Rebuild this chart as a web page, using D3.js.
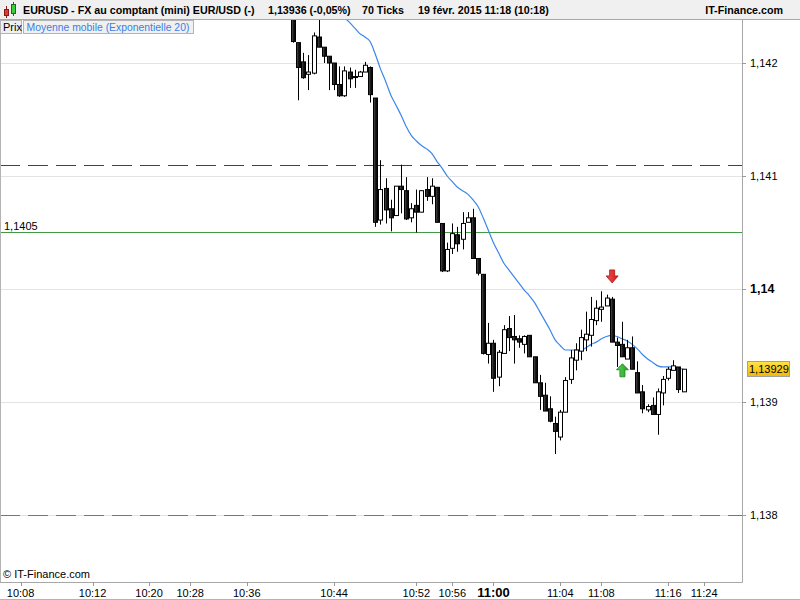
<!DOCTYPE html>
<html>
<head>
<meta charset="utf-8">
<script src="https://cdn.jsdelivr.net/npm/d3@7"></script>
<style>
  html, body { margin: 0; padding: 0; background: #fff; }
  svg { display: block; font-family: "Liberation Sans", Arial, sans-serif; }
</style>
</head>
<body>
<svg id="chart" width="800" height="600"></svg>
<script>
// ---------------- data ----------------
const opens = [1.14245,1.14218,1.14201,1.14190,1.14191,1.14223,1.14214,1.14206,1.14200,1.14181,
  1.14171,1.14192,1.14188,1.14188,1.14192,1.14196,1.14169,1.14061,1.14089,1.14071,
  1.14065,1.14091,1.14087,1.14063,1.14074,1.14068,1.14088,1.14082,1.14090,1.14058,
  1.14016,1.14036,1.14048,1.14044,1.14059,1.14063,1.14027,1.14013,1.13942,1.13952,
  1.13922,1.13943,1.13965,1.13958,1.13956,1.13951,1.13959,1.13940,1.13917,1.13906,
  1.13894,1.13881,1.13869,1.13891,1.13920,1.13937,1.13945,1.13955,1.13959,1.13972,
  1.13982,1.13985,1.13991,1.13953,1.13951,1.13938,1.13948,1.13926,1.13909,1.13893,
  1.13897,1.13889,1.13908,1.13921,1.13928,1.13931,1.13909];
const highs = [1.14251,1.14218,1.14209,1.14207,1.14227,1.14240,1.14214,1.14206,1.14200,1.14197,
  1.14197,1.14196,1.14194,1.14193,1.14201,1.14197,1.14169,1.14114,1.14098,1.14079,
  1.14091,1.14110,1.14099,1.14076,1.14088,1.14087,1.14099,1.14098,1.14090,1.14058,
  1.14041,1.14058,1.14055,1.14068,1.14068,1.14071,1.14027,1.14013,1.13970,1.13955,
  1.13946,1.13968,1.13976,1.13977,1.13959,1.13959,1.13959,1.13940,1.13924,1.13917,
  1.13905,1.13887,1.13893,1.13922,1.13946,1.13952,1.13964,1.13980,1.13993,1.13990,
  1.13998,1.13995,1.13993,1.13957,1.13971,1.13955,1.13958,1.13936,1.13915,1.13898,
  1.13904,1.13912,1.13923,1.13931,1.13937,1.13931,1.13929];
const lows = [1.14218,1.14167,1.14186,1.14176,1.14190,1.14214,1.14200,1.14176,1.14176,1.14170,
  1.14170,1.14178,1.14178,1.14188,1.14192,1.14165,1.14055,1.14057,1.14058,1.14051,
  1.14065,1.14067,1.14061,1.14059,1.14050,1.14068,1.14078,1.14075,1.14059,1.14015,
  1.14015,1.14031,1.14033,1.14035,1.14059,1.14027,1.14012,1.13942,1.13934,1.13909,
  1.13914,1.13943,1.13945,1.13934,1.13948,1.13943,1.13940,1.13917,1.13893,1.13892,
  1.13882,1.13854,1.13866,1.13891,1.13916,1.13928,1.13937,1.13945,1.13949,1.13968,
  1.13971,1.13985,1.13953,1.13931,1.13940,1.13938,1.13929,1.13908,1.13890,1.13891,
  1.13889,1.13871,1.13897,1.13919,1.13928,1.13908,1.13909];
const closes = [1.14219,1.14196,1.14187,1.14192,1.14224,1.14214,1.14206,1.14200,1.14181,1.14171,
  1.14193,1.14186,1.14188,1.14192,1.14198,1.14172,1.14059,1.14088,1.14070,1.14063,
  1.14091,1.14088,1.14062,1.14071,1.14068,1.14087,1.14082,1.14091,1.14059,1.14016,
  1.14035,1.14049,1.14040,1.14058,1.14063,1.14027,1.14014,1.13943,1.13952,1.13921,
  1.13944,1.13964,1.13957,1.13955,1.13953,1.13958,1.13940,1.13917,1.13905,1.13892,
  1.13883,1.13874,1.13891,1.13919,1.13939,1.13946,1.13957,1.13960,1.13973,1.13983,
  1.13984,1.13992,1.13953,1.13950,1.13940,1.13948,1.13929,1.13908,1.13894,1.13896,
  1.13889,1.13909,1.13920,1.13929,1.13932,1.13911,1.13929];
// EMA(20), starting at bar 10
const emaStart = 10;
const emaValues = [1.14245,1.14240,1.14236,1.14231,1.14226,1.14223,1.14219,1.14208,1.14195,1.14184,
  1.14172,1.14163,1.14154,1.14144,1.14136,1.14131,1.14127,1.14124,1.14120,1.14113,
  1.14107,1.14100,1.14095,1.14090,1.14087,1.14084,1.14079,1.14073,1.14063,1.14052,
  1.14041,1.14032,1.14023,1.14017,1.14011,1.14005,1.13999,1.13994,1.13988,1.13980,
  1.13972,1.13964,1.13955,1.13950,1.13946,1.13946,1.13946,1.13946,1.13948,1.13951,
  1.13953,1.13956,1.13958,1.13959,1.13958,1.13956,1.13954,1.13951,1.13947,1.13942,
  1.13938,1.13935,1.13932,1.13931,1.13931,1.13931,1.13930,1.13929];
const timeTickBars = [-52,-38,-27,-19,-8,9,25,32,40,53,61,74,81];
const timeTickLabels = ["10:08","10:12","10:20","10:28","10:36","10:44","10:52","10:56","11:00","11:04","11:08","11:16","11:24"];
const timeTickBold = ["11:00"];
const priceTicks = [1.138,1.139,1.14,1.141,1.142];
const priceTickLabels = ["1,138","1,139","1,14","1,141","1,142"];
const priceTickBold = ["1,14"];
const redDashedLevel = 1.1411;
const greenLevel = 1.1405;
const greenLevelLabel = "1,1405";
const greenDashedLevel = 1.138;
const lastPrice = 1.13929;
const lastPriceLabel = "1,13929";
const signalBars = [63, 65];
const signalTypes = ["sell", "buy"];

// ---------------- scales ----------------
const svg = d3.select("#chart");
const W = 800, H = 600;
const plotL = 0, plotR = 742, plotT = 20, plotB = 582;
const x = d3.scaleLinear().domain([1, 77]).range([293, 683.6]);
const y = d3.scaleLinear().domain([1.138, 1.142]).range([515, 63]);

const bars = opens.map((o, i) => ({ i: i + 1, o, h: highs[i], l: lows[i], c: closes[i] }));

// clip
svg.append("defs").append("clipPath").attr("id", "plotclip")
  .append("rect").attr("x", plotL).attr("y", plotT).attr("width", plotR - plotL).attr("height", plotB - plotT);

const defs = svg.select("defs");
const gy = defs.append("linearGradient").attr("id", "gold").attr("x1", 0).attr("y1", 0).attr("x2", 0).attr("y2", 1);
gy.append("stop").attr("offset", "0%").attr("stop-color", "#ffe24a");
gy.append("stop").attr("offset", "100%").attr("stop-color", "#f2b800");
const gr = defs.append("linearGradient").attr("id", "redg").attr("x1", 0).attr("y1", 0).attr("x2", 1).attr("y2", 0);
gr.append("stop").attr("offset", "0%").attr("stop-color", "#f05050");
gr.append("stop").attr("offset", "100%").attr("stop-color", "#d01c1c");
const gg = defs.append("linearGradient").attr("id", "greeng").attr("x1", 0).attr("y1", 0).attr("x2", 1).attr("y2", 0);
gg.append("stop").attr("offset", "0%").attr("stop-color", "#5ad85a");
gg.append("stop").attr("offset", "100%").attr("stop-color", "#22a022");
const gd = defs.append("linearGradient").attr("id", "darkg").attr("x1", 0).attr("y1", 0).attr("x2", 1).attr("y2", 0);
gd.append("stop").attr("offset", "0%").attr("stop-color", "#555");
gd.append("stop").attr("offset", "50%").attr("stop-color", "#1a1a1a");
gd.append("stop").attr("offset", "100%").attr("stop-color", "#000");

const plot = svg.append("g").attr("clip-path", "url(#plotclip)");

// grid lines
plot.selectAll("line.grid").data(priceTicks).enter().append("line")
  .attr("x1", plotL).attr("x2", plotR)
  .attr("y1", d => Math.round(y(d)) + 0.5).attr("y2", d => Math.round(y(d)) + 0.5)
  .attr("stroke", "#e3e3e3").attr("stroke-width", 1);

// level lines
plot.append("line").attr("x1", plotL).attr("x2", plotR)
  .attr("y1", Math.round(y(redDashedLevel)) + 0.5).attr("y2", Math.round(y(redDashedLevel)) + 0.5)
  .attr("stroke", "#e00000").attr("stroke-width", 1).attr("stroke-dasharray", "20,8");
plot.append("line").attr("x1", plotL).attr("x2", plotR)
  .attr("y1", Math.round(y(greenLevel)) + 0.5).attr("y2", Math.round(y(greenLevel)) + 0.5)
  .attr("stroke", "#449a44").attr("stroke-width", 1);
plot.append("line").attr("x1", plotL).attr("x2", plotR)
  .attr("y1", Math.round(y(greenDashedLevel)) + 0.5).attr("y2", Math.round(y(greenDashedLevel)) + 0.5)
  .attr("stroke", "#449a44").attr("stroke-width", 1).attr("stroke-dasharray", "20,8");
svg.append("text").attr("x", 4).attr("y", Math.round(y(greenLevel)) - 2)
  .attr("font-size", 11).attr("fill", "#000").text(greenLevelLabel);

// EMA line
const emaData = emaValues.map((v, k) => ({ i: emaStart + k, v }));
plot.append("path").datum(emaData)
  .attr("d", d3.line().x(d => x(d.i)).y(d => y(d.v)).curve(d3.curveMonotoneX))
  .attr("fill", "none").attr("stroke", "#3a86ec").attr("stroke-width", 1.2);

// candles
const bw = 4;
const cg = plot.selectAll("g.candle").data(bars).enter().append("g");
cg.append("line")
  .attr("x1", d => Math.round(x(d.i)) + 0.5).attr("x2", d => Math.round(x(d.i)) + 0.5)
  .attr("y1", d => y(d.h)).attr("y2", d => y(d.l))
  .attr("stroke", "#000").attr("stroke-width", 1);
cg.append("rect")
  .attr("x", d => Math.round(x(d.i)) - bw / 2 + 0.5)
  .attr("y", d => y(Math.max(d.o, d.c)))
  .attr("width", bw)
  .attr("height", d => Math.max(1, Math.abs(y(d.o) - y(d.c))))
  .attr("fill", d => d.c >= d.o ? "#fff" : "url(#darkg)")
  .attr("stroke", "#000").attr("stroke-width", 1);

// signal arrows
const signals = signalBars.map((b, k) => ({ bar: bars[b - 1], type: signalTypes[k] }));
svg.selectAll("path.sig").data(signals).enter().append("path")
  .attr("d", d => {
    const cx = x(d.bar.i) + 0.5;
    if (d.type === "sell") {
      const tip = y(d.bar.h) - 14;
      return `M${cx - 2.5},${tip - 13} L${cx + 2.5},${tip - 13} L${cx + 2.5},${tip - 7} L${cx + 6},${tip - 7} L${cx},${tip} L${cx - 6},${tip - 7} L${cx - 2.5},${tip - 7} Z`;
    } else {
      const tip = y(d.bar.l) + 7;
      return `M${cx - 2.5},${tip + 13} L${cx + 2.5},${tip + 13} L${cx + 2.5},${tip + 6} L${cx + 6},${tip + 6} L${cx},${tip} L${cx - 6},${tip + 6} L${cx - 2.5},${tip + 6} Z`;
    }
  })
  .attr("fill", d => d.type === "sell" ? "url(#redg)" : "url(#greeng)")
  .attr("stroke", d => d.type === "sell" ? "#a81414" : "#1c7c1c")
  .attr("stroke-width", 0.8);

// frame / axes
svg.append("line").attr("x1", 0.5).attr("x2", 0.5).attr("y1", plotT).attr("y2", plotB).attr("stroke", "#b4b4b4");
svg.append("line").attr("x1", plotR + 0.5).attr("x2", plotR + 0.5).attr("y1", plotT).attr("y2", plotB + 0.5).attr("stroke", "#a8a8a8");
svg.append("line").attr("x1", 0).attr("x2", plotR + 0.5).attr("y1", plotB + 0.5).attr("y2", plotB + 0.5).attr("stroke", "#a8a8a8");
svg.append("line").attr("x1", 0).attr("x2", W).attr("y1", 599.5).attr("y2", 599.5).attr("stroke", "#b4b4b4");

// price axis
const pa = svg.append("g");
pa.selectAll("line").data(priceTicks).enter().append("line")
  .attr("x1", plotR).attr("x2", plotR + 4)
  .attr("y1", d => Math.round(y(d)) + 0.5).attr("y2", d => Math.round(y(d)) + 0.5)
  .attr("stroke", "#999");
pa.selectAll("text").data(priceTicks).enter().append("text")
  .attr("x", 750).attr("y", d => y(d) + 4)
  .attr("font-size", (d, k) => priceTickBold.includes(priceTickLabels[k]) ? 12.5 : 11)
  .attr("font-weight", (d, k) => priceTickBold.includes(priceTickLabels[k]) ? "bold" : "normal")
  .attr("fill", "#000")
  .text((d, k) => priceTickLabels[k]);

// last price box
const ly = y(lastPrice);
svg.append("rect").attr("x", 747.5).attr("y", Math.round(ly) - 7.5).attr("width", 42).attr("height", 15)
  .attr("fill", "url(#gold)").attr("stroke", "#a0a0a0");
svg.append("text").attr("x", 749).attr("y", ly + 4).attr("font-size", 11).attr("fill", "#000").text(lastPriceLabel);

// time axis
const ta = svg.append("g");
ta.selectAll("line").data(timeTickBars).enter().append("line")
  .attr("x1", d => Math.round(x(d)) + 0.5).attr("x2", d => Math.round(x(d)) + 0.5)
  .attr("y1", plotB).attr("y2", plotB + 4).attr("stroke", "#999");
ta.selectAll("text").data(timeTickBars).enter().append("text")
  .attr("x", d => x(d)).attr("y", 597)
  .attr("text-anchor", "middle")
  .attr("font-size", (d, k) => timeTickBold.includes(timeTickLabels[k]) ? 13 : 11)
  .attr("font-weight", (d, k) => timeTickBold.includes(timeTickLabels[k]) ? "bold" : "normal")
  .attr("fill", "#000")
  .text((d, k) => timeTickLabels[k]);

svg.append("text").attr("x", 3).attr("y", 578).attr("font-size", 11).attr("fill", "#000").text("© IT-Finance.com");

// header
svg.append("rect").attr("x", 0).attr("y", 0).attr("width", W).attr("height", 19.5).attr("fill", "#f0f0f0");
svg.append("line").attr("x1", 0).attr("x2", W).attr("y1", 19.5).attr("y2", 19.5).attr("stroke", "#a8a8a8");
// icon
svg.append("line").attr("x1", 6.5).attr("x2", 6.5).attr("y1", 6).attr("y2", 18).attr("stroke", "#8a1a1a");
svg.append("rect").attr("x", 4.5).attr("y", 9.5).attr("width", 4).attr("height", 6).attr("fill", "#e03a3a").attr("stroke", "#8a1a1a");
svg.append("line").attr("x1", 13.5).attr("x2", 13.5).attr("y1", 2).attr("y2", 16).attr("stroke", "#1a6a1a");
svg.append("rect").attr("x", 11.5).attr("y", 4.5).attr("width", 4).attr("height", 9).attr("fill", "#3ccc3c").attr("stroke", "#1a6a1a");
const hdr = svg.append("g").attr("font-size", 10.7).attr("font-weight", "bold").attr("fill", "#000");
hdr.append("text").attr("x", 23).attr("y", 14).text("EURUSD - FX au comptant (mini) EUR/USD (-)");
hdr.append("text").attr("x", 268).attr("y", 14).text("1,13936 (-0,05%)");
hdr.append("text").attr("x", 362).attr("y", 14).text("70 Ticks");
hdr.append("text").attr("x", 418).attr("y", 14).text("19 févr. 2015 11:18 (10:18)");
hdr.append("text").attr("x", 783).attr("y", 14).attr("text-anchor", "end").text("IT-Finance.com");

// legend
svg.append("rect").attr("x", 0.5).attr("y", 20.5).attr("width", 21).attr("height", 13).attr("fill", "#f0f0f0").attr("stroke", "#b4b4b4");
svg.append("text").attr("x", 3).attr("y", 31).attr("font-size", 11).attr("fill", "#000").text("Prix");
svg.append("rect").attr("x", 23.5).attr("y", 20.5).attr("width", 170).attr("height", 13).attr("fill", "#f0f0f0").attr("stroke", "#b4b4b4");
svg.append("text").attr("x", 26.5).attr("y", 31).attr("font-size", 10.4).attr("fill", "#3a7ee6").text("Moyenne mobile (Exponentielle 20)");
</script>
</body>
</html>
